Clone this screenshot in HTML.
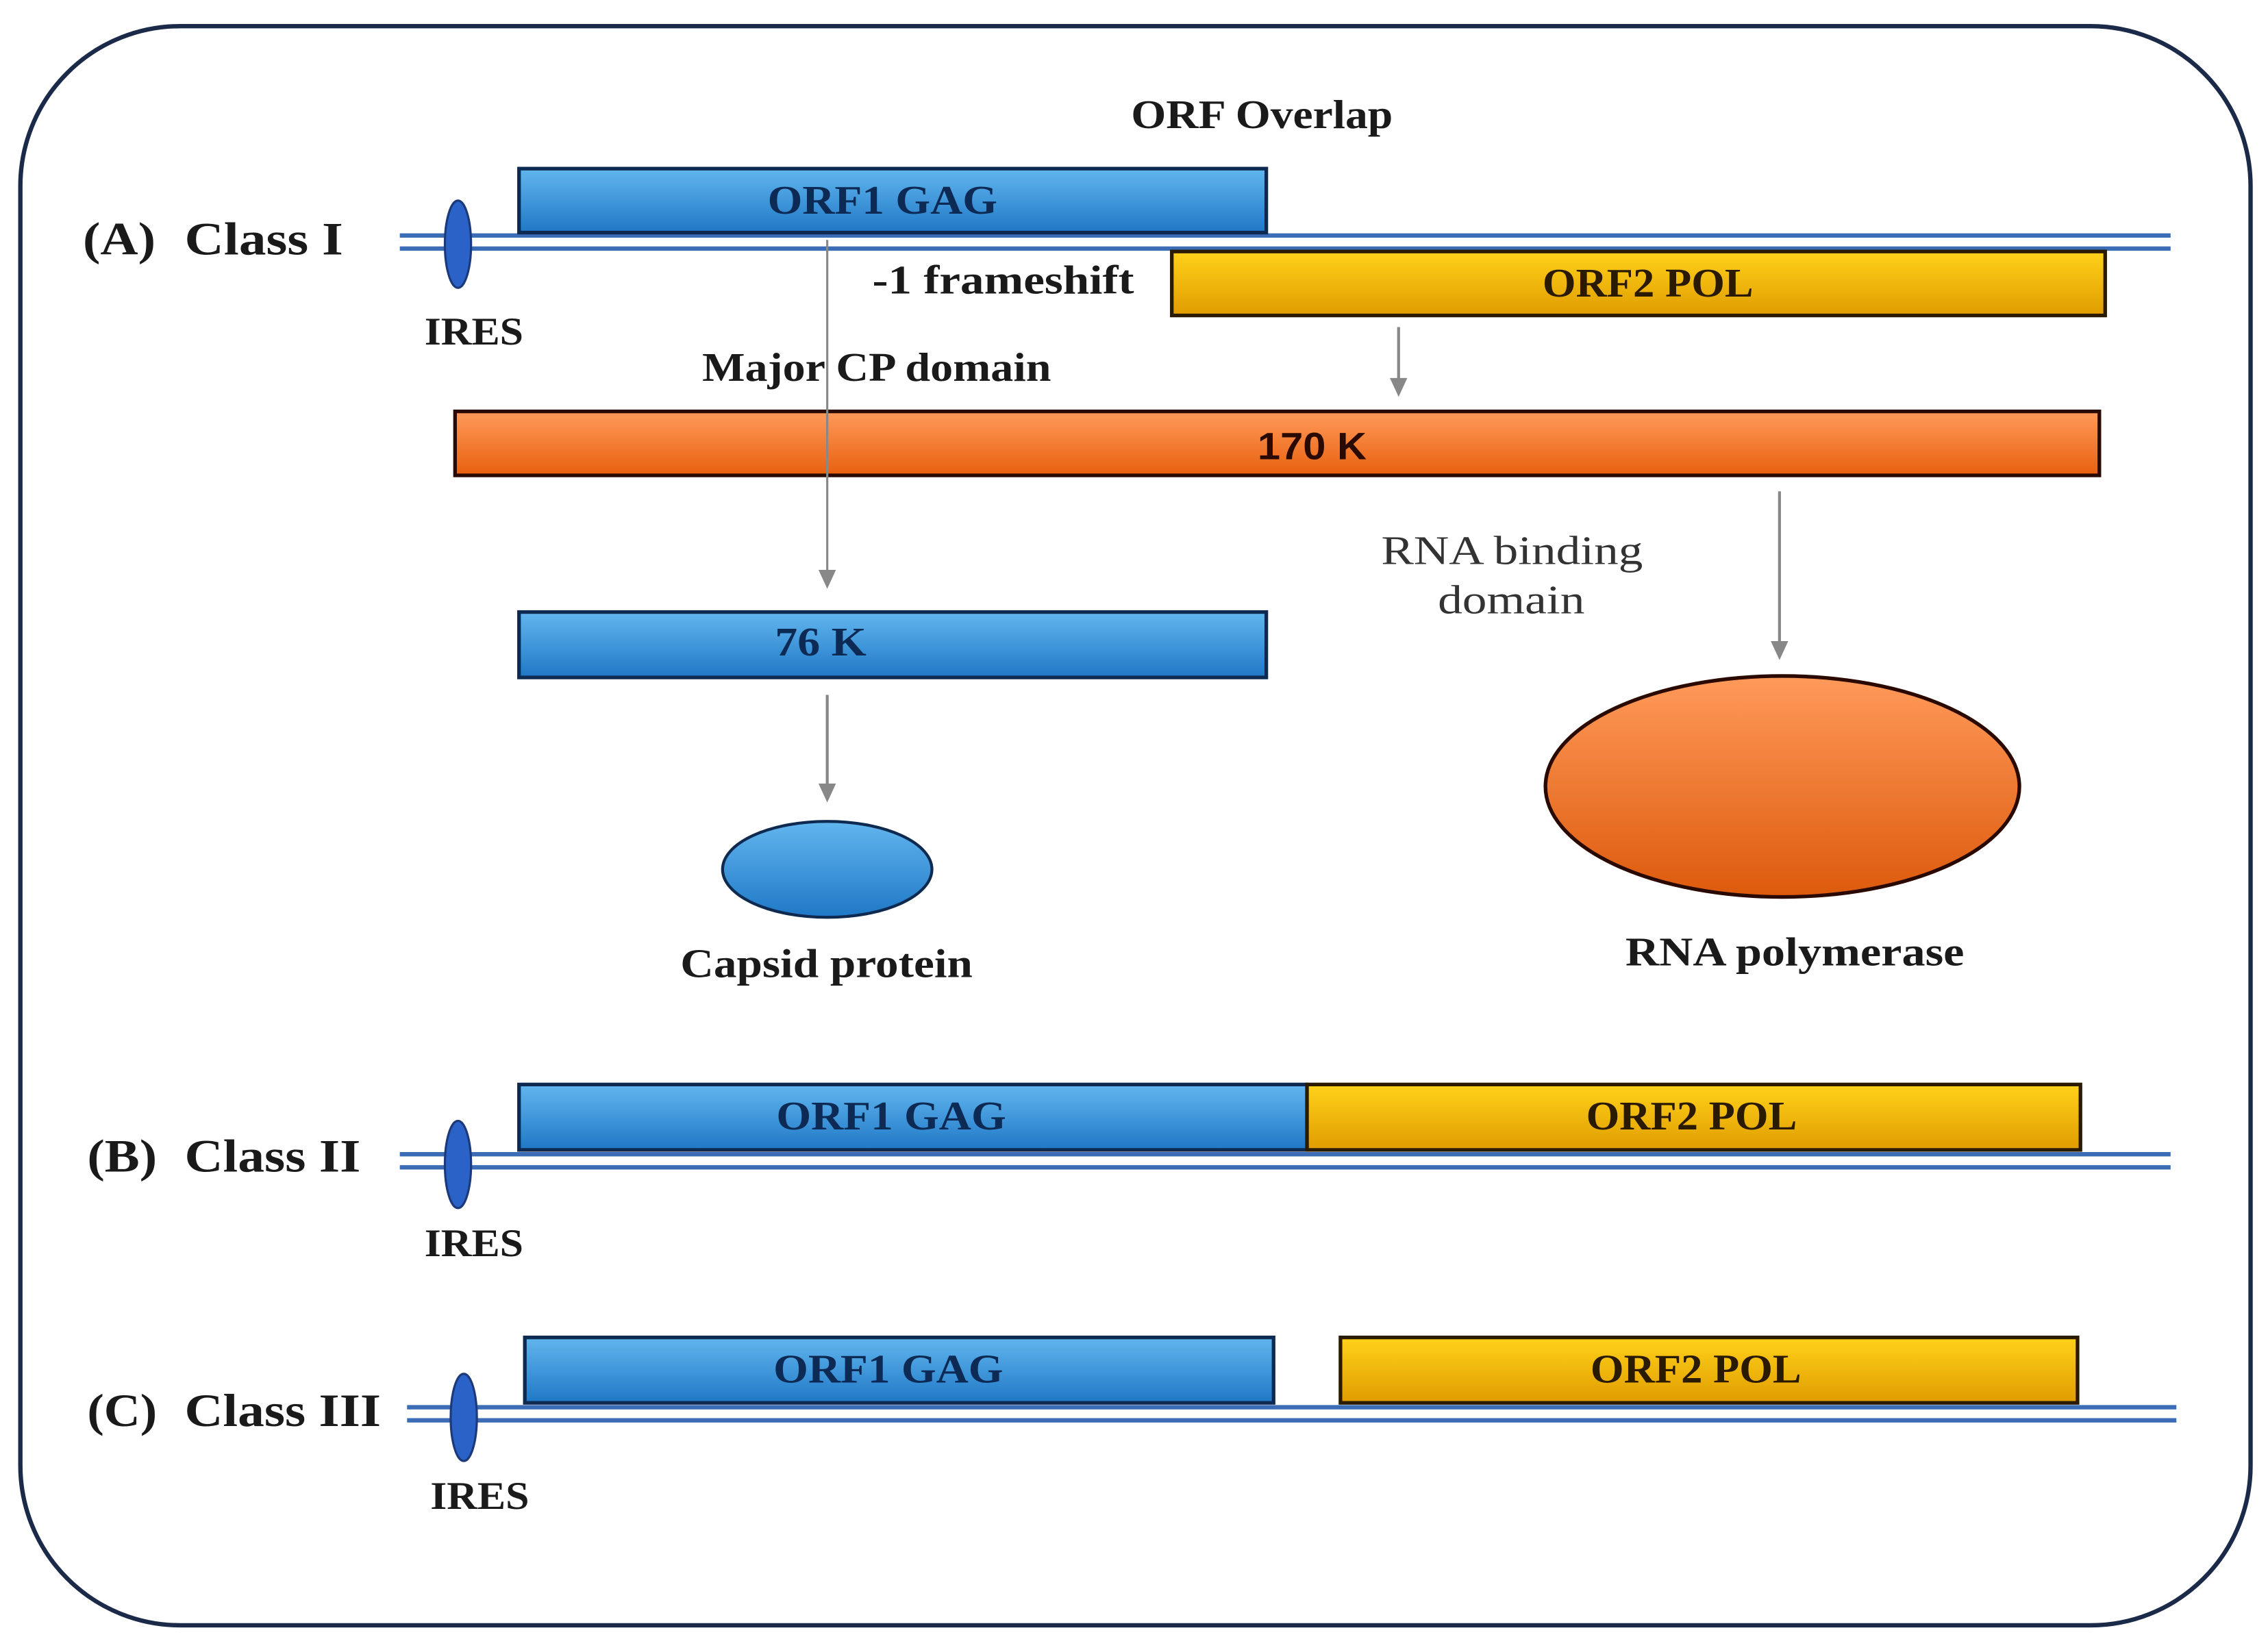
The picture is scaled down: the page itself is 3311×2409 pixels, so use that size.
<!DOCTYPE html>
<html><head><meta charset="utf-8"><style>html,body{margin:0;padding:0;background:#fff}svg{display:block}</style></head>
<body>
<svg width="3311" height="2409" viewBox="0 0 1560 1135" preserveAspectRatio="none" xmlns="http://www.w3.org/2000/svg">
<defs>
<linearGradient id="bl" x1="0" y1="0" x2="0" y2="1"><stop offset="0" stop-color="#62b6ee"/><stop offset="1" stop-color="#1f78c6"/></linearGradient>
<linearGradient id="ye" x1="0" y1="0" x2="0" y2="1"><stop offset="0" stop-color="#ffd21a"/><stop offset="1" stop-color="#e09c00"/></linearGradient>
<linearGradient id="or" x1="0" y1="0" x2="0" y2="1"><stop offset="0" stop-color="#ff9a5a"/><stop offset="1" stop-color="#e8600e"/></linearGradient>
<linearGradient id="or2" x1="0" y1="0" x2="0" y2="1"><stop offset="0" stop-color="#ff9a5a"/><stop offset="1" stop-color="#dd5a0c"/></linearGradient>
</defs>
<style>
text{font-family:"Liberation Serif",serif;font-weight:bold;fill:#1a1a1a}
.bx{fill:#0d2a55;font-size:28px}
</style>
<rect x="14" y="18" width="1534" height="1100" rx="110" fill="none" stroke="#1c2a4a" stroke-width="3"/>

<!-- Class I -->
<line x1="275" y1="162" x2="1493" y2="162" stroke="#3a6db5" stroke-width="3"/>
<line x1="275" y1="171" x2="1493" y2="171" stroke="#3a6db5" stroke-width="3"/>
<ellipse cx="315" cy="168" rx="9" ry="30" fill="#2a62c8" stroke="#1c3a7a" stroke-width="1.5"/>
<text x="292" y="237" font-size="27" textLength="68" lengthAdjust="spacingAndGlyphs">IRES</text>
<text x="57" y="175" font-size="32" textLength="50" lengthAdjust="spacingAndGlyphs">(A)</text>
<text x="127" y="175" font-size="32" textLength="109" lengthAdjust="spacingAndGlyphs">Class I</text>
<text x="778" y="88" font-size="28" textLength="180" lengthAdjust="spacingAndGlyphs">ORF Overlap</text>
<rect x="357" y="116" width="514" height="44" fill="url(#bl)" stroke="#0f2a50" stroke-width="2.5"/>
<text x="528" y="147" class="bx" textLength="158" lengthAdjust="spacingAndGlyphs">ORF1 GAG</text>
<text x="600" y="202" font-size="28" textLength="180" lengthAdjust="spacingAndGlyphs">-1 frameshift</text>
<rect x="806" y="173" width="642" height="44" fill="url(#ye)" stroke="#2a1a00" stroke-width="2.5"/>
<text x="1061" y="204" class="bx" style="fill:#2a1a00" textLength="145" lengthAdjust="spacingAndGlyphs">ORF2 POL</text>
<text x="483" y="262" font-size="28" textLength="240" lengthAdjust="spacingAndGlyphs">Major CP domain</text>
<line x1="962" y1="225" x2="962" y2="262" stroke="#888" stroke-width="2"/>
<polygon points="956,260 968,260 962,273" fill="#888"/>
<rect x="313" y="283" width="1131" height="44" fill="url(#or)" stroke="#2a0a00" stroke-width="2.5"/>
<text x="865" y="316" font-size="26" style="font-family:'Liberation Sans',sans-serif;fill:#2a0a00" textLength="75" lengthAdjust="spacingAndGlyphs">170 K</text>
<line x1="569" y1="165" x2="569" y2="395" stroke="#888" stroke-width="1.5"/>
<polygon points="563,392 575,392 569,405" fill="#888"/>
<line x1="1224" y1="338" x2="1224" y2="443" stroke="#888" stroke-width="2"/>
<polygon points="1218,441 1230,441 1224,454" fill="#888"/>
<text x="950" y="388" font-size="28" style="font-weight:normal;fill:#333" textLength="180" lengthAdjust="spacingAndGlyphs">RNA binding</text>
<text x="989" y="422" font-size="28" style="font-weight:normal;fill:#333" textLength="101" lengthAdjust="spacingAndGlyphs">domain</text>
<rect x="357" y="421" width="514" height="45" fill="url(#bl)" stroke="#0f2a50" stroke-width="2.5"/>
<text x="533" y="451" class="bx" textLength="63" lengthAdjust="spacingAndGlyphs">76 K</text>
<line x1="569" y1="478" x2="569" y2="541" stroke="#888" stroke-width="2"/>
<polygon points="563,539 575,539 569,552" fill="#888"/>
<ellipse cx="569" cy="598" rx="72" ry="33" fill="url(#bl)" stroke="#0f2a50" stroke-width="2"/>
<text x="468" y="672" font-size="28" textLength="201" lengthAdjust="spacingAndGlyphs">Capsid protein</text>
<ellipse cx="1226" cy="541" rx="163" ry="76" fill="url(#or2)" stroke="#2a0a00" stroke-width="2.5"/>
<text x="1118" y="664" font-size="28" textLength="233" lengthAdjust="spacingAndGlyphs">RNA polymerase</text>

<!-- Class II -->
<line x1="275" y1="794" x2="1493" y2="794" stroke="#3a6db5" stroke-width="3"/>
<line x1="275" y1="803" x2="1493" y2="803" stroke="#3a6db5" stroke-width="3"/>
<ellipse cx="315" cy="801" rx="9" ry="30" fill="#2a62c8" stroke="#1c3a7a" stroke-width="1.5"/>
<text x="292" y="864" font-size="27" textLength="68" lengthAdjust="spacingAndGlyphs">IRES</text>
<text x="60" y="806" font-size="32" textLength="48" lengthAdjust="spacingAndGlyphs">(B)</text>
<text x="127" y="806" font-size="32" textLength="121" lengthAdjust="spacingAndGlyphs">Class II</text>
<rect x="357" y="746" width="542" height="45" fill="url(#bl)" stroke="#0f2a50" stroke-width="2.5"/>
<text x="534" y="777" class="bx" textLength="158" lengthAdjust="spacingAndGlyphs">ORF1 GAG</text>
<rect x="899" y="746" width="532" height="45" fill="url(#ye)" stroke="#2a1a00" stroke-width="2.5"/>
<text x="1091" y="777" class="bx" style="fill:#2a1a00" textLength="145" lengthAdjust="spacingAndGlyphs">ORF2 POL</text>

<!-- Class III -->
<line x1="280" y1="968" x2="1497" y2="968" stroke="#3a6db5" stroke-width="3"/>
<line x1="280" y1="977" x2="1497" y2="977" stroke="#3a6db5" stroke-width="3"/>
<ellipse cx="319" cy="975" rx="9" ry="30" fill="#2a62c8" stroke="#1c3a7a" stroke-width="1.5"/>
<text x="296" y="1038" font-size="27" textLength="68" lengthAdjust="spacingAndGlyphs">IRES</text>
<text x="60" y="981" font-size="32" textLength="48" lengthAdjust="spacingAndGlyphs">(C)</text>
<text x="127" y="981" font-size="32" textLength="135" lengthAdjust="spacingAndGlyphs">Class III</text>
<rect x="361" y="920" width="515" height="45" fill="url(#bl)" stroke="#0f2a50" stroke-width="2.5"/>
<text x="532" y="951" class="bx" textLength="158" lengthAdjust="spacingAndGlyphs">ORF1 GAG</text>
<rect x="922" y="920" width="507" height="45" fill="url(#ye)" stroke="#2a1a00" stroke-width="2.5"/>
<text x="1094" y="951" class="bx" style="fill:#2a1a00" textLength="145" lengthAdjust="spacingAndGlyphs">ORF2 POL</text>
</svg>
</body></html>
